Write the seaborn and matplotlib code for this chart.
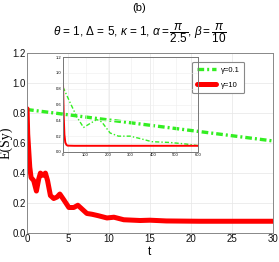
import numpy as np
import pandas as pd
import matplotlib
matplotlib.use("Agg")
import matplotlib.pyplot as plt
import seaborn as sns
from matplotlib.ticker import MultipleLocator

# ---- data ----
t_red = [0, 0.08, 0.33, 0.49, 0.81, 1.14, 1.42, 1.63, 1.95, 2.24, 2.5, 2.85, 3.25, 3.66, 4.0,
         4.5, 5.1, 5.7, 6.2, 6.7, 7.3, 7.9, 8.7, 9.75, 10.6, 11.8, 13.8, 15, 17, 21, 25, 30]
e_red = [0.83, 0.66, 0.44, 0.37, 0.35, 0.28, 0.36, 0.40, 0.385, 0.40, 0.35, 0.25, 0.23, 0.24, 0.26,
         0.22, 0.17, 0.17, 0.185, 0.16, 0.13, 0.125, 0.115, 0.10, 0.105, 0.088, 0.083, 0.085, 0.08, 0.078, 0.078, 0.078]
t_green = [0, 5, 10, 15, 20, 25, 30]
e_green = [0.825, 0.79, 0.755, 0.72, 0.685, 0.65, 0.615]

ti_green = [0, 32, 62, 91, 120, 150, 172, 209, 246, 298, 342, 394, 475, 548, 600]
ei_green = [0.82, 0.62, 0.44, 0.31, 0.36, 0.41, 0.38, 0.24, 0.20, 0.20, 0.17, 0.13, 0.12, 0.10, 0.08]
ti_red = [0, 3, 6, 10, 15, 20, 50, 100, 300, 600]
ei_red = [0.84, 0.45, 0.22, 0.12, 0.09, 0.08, 0.078, 0.078, 0.078, 0.078]

labels = ["γ=0.1", "γ=10"]

sns.set_theme(style="whitegrid")
plt.rcParams["font.family"] = ["Liberation Sans", "DejaVu Sans"]
plt.rcParams["text.color"] = "black"
plt.rcParams["axes.labelcolor"] = "black"
plt.rcParams["mathtext.fontset"] = "custom"
plt.rcParams["mathtext.rm"] = "Liberation Sans"
plt.rcParams["mathtext.it"] = "Liberation Sans:italic"

fig = plt.figure(figsize=(2.79, 2.62), dpi=100)
ax = fig.add_axes([0.097, 0.111, 0.881, 0.685])

df_g = pd.DataFrame({"t": t_green, "E": e_green})
df_r = pd.DataFrame({"t": t_red, "E": e_red})
sns.lineplot(data=df_g, x="t", y="E", ax=ax, color="#33ee22", lw=2.4, ls=(0, (2.0, 0.9, 0.6, 0.9)), label=labels[0])
sns.lineplot(data=df_r, x="t", y="E", ax=ax, color="#ff0000", lw=3.6, label=labels[1])

ax.set_xlim(0, 30)
ax.set_ylim(0, 1.2)
ax.xaxis.set_major_locator(MultipleLocator(5))
ax.xaxis.set_minor_locator(MultipleLocator(1))
ax.yaxis.set_minor_locator(MultipleLocator(0.05))
ax.set_yticks(np.arange(0, 1.21, 0.2))
ax.set_yticklabels([f"{v:.1f}" for v in np.arange(0, 1.21, 0.2)])
ax.tick_params(axis="both", which="both", direction="in", labelsize=7, pad=1, colors="#444444", labelcolor="#111111")
ax.tick_params(which="major", length=3, width=0.6)
ax.tick_params(which="minor", length=1.5, width=0.5)
ax.grid(True, color="#e6e6e6", lw=0.5)
for s in ax.spines.values():
    s.set_color("#888888")
    s.set_linewidth(0.7)
ax.set_xlabel("t", fontsize=8.5, labelpad=1)
ax.set_ylabel("E(Sy)", fontsize=10, family=["Liberation Serif", "DejaVu Serif"], labelpad=0)

leg = ax.legend(loc="upper right", bbox_to_anchor=(0.9, 0.975), fontsize=5.5, frameon=True,
                fancybox=True, handlelength=2.6, borderpad=0.6, labelspacing=1.0, handletextpad=0.6)
leg.get_frame().set_edgecolor("#888888")
leg.get_frame().set_linewidth(0.8)
leg.get_frame().set_alpha(1)
for txt in leg.get_texts():
    txt.set_color("black")

fig.text(0.5, 0.968, "(b)", ha="center", va="center", fontsize=8)
fig.text(0.5, 0.872, r"$\theta$ = 1, $\Delta$ = 5, $\kappa$ = 1, $\alpha = \dfrac{\pi}{2.5}$, $\beta = \dfrac{\pi}{10}$",
         ha="center", va="center", fontsize=8.5)

ins = fig.add_axes([0.226, 0.42, 0.484, 0.362])
df_ig = pd.DataFrame({"t": ti_green, "E": ei_green})
df_ir = pd.DataFrame({"t": ti_red, "E": ei_red})
sns.lineplot(data=df_ig, x="t", y="E", ax=ins, color="#33ee22", lw=1.0, ls=(0, (3, 1.5, 1, 1.5)), legend=False)
sns.lineplot(data=df_ir, x="t", y="E", ax=ins, color="#ff0000", lw=1.4, legend=False)
ins.set_xlim(0, 600)
ins.set_ylim(0, 1.2)
ins.set_xticks(np.arange(0, 601, 100))
ins.set_yticks(np.arange(0, 1.21, 0.2))
ins.set_yticklabels([f"{v:.1f}" for v in np.arange(0, 1.21, 0.2)])
ins.xaxis.set_minor_locator(MultipleLocator(20))
ins.yaxis.set_minor_locator(MultipleLocator(0.05))
ins.tick_params(axis="both", which="both", direction="in", labelsize=3, pad=1, colors="#444444", labelcolor="black")
ins.tick_params(which="major", length=2, width=0.5)
ins.tick_params(which="minor", length=1, width=0.4)
ins.grid(True, color="#eeeeee", lw=0.4)
ins.set_xlabel("")
ins.set_ylabel("")
ins.patch.set_alpha(0)
for s in ins.spines.values():
    s.set_color("#777777")
    s.set_linewidth(0.7)

fig.savefig("out.png", dpi=100)
